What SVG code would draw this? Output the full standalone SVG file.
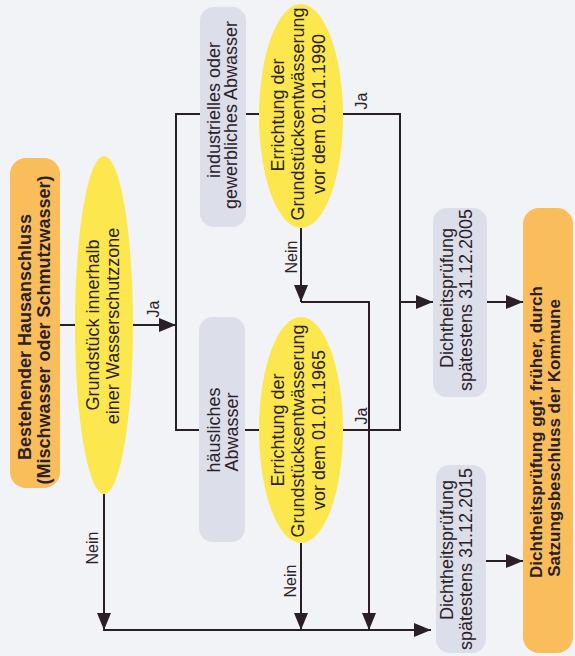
<svg xmlns="http://www.w3.org/2000/svg" width="575" height="656" viewBox="0 0 575 656">
<style>
.t{font-family:"Liberation Sans Narrow","Liberation Sans",Arial,sans-serif;fill:#2b2126;text-anchor:middle}
.b{font-weight:bold}
.lbl{font-family:"Liberation Sans",Arial,sans-serif;font-size:16px}
.ln{fill:none;stroke:#2a1f25;stroke-width:2}
.ell{fill:#fce84e}
.gray{fill:#dcdeea}
.org{fill:#f9bd5c}
</style>
<defs>
<marker id="ah" markerUnits="userSpaceOnUse" markerWidth="17" markerHeight="14" refX="17" refY="7" orient="auto">
<path d="M0,0 L17,7 L0,14 z" fill="#2a1f25"/>
</marker>
</defs>
<rect x="0" y="0" width="575" height="656" fill="#f2f3f7"/>
<g id="connectors">
<path class="ln" d="M60,325 H76"/>
<path class="ln" d="M133,325 H176" marker-end="url(#ah)"/>
<path class="ln" d="M259,114 H176 V430 H259"/>
<path class="ln" d="M343,114 H400 V430 H342"/>
<path class="ln" d="M400,302 H433" marker-end="url(#ah)"/>
<path class="ln" d="M301,228 V302" marker-end="url(#ah)"/>
<path class="ln" d="M301,302 H369 V630" marker-end="url(#ah)"/>
<path class="ln" d="M301,543 V630" marker-end="url(#ah)"/>
<path class="ln" d="M104,494 V630" marker-end="url(#ah)"/>
<path class="ln" d="M103,630 H431" marker-end="url(#ah)"/>
<path class="ln" d="M487,302 H523" marker-end="url(#ah)"/>
<path class="ln" d="M486,561 H523" marker-end="url(#ah)"/>
<text class="t lbl" transform="translate(159,309) rotate(-90)">Ja</text>
<text class="t lbl" transform="translate(367,101) rotate(-90)">Ja</text>
<text class="t lbl" transform="translate(367,416) rotate(-90)">Ja</text>
<text class="t lbl" transform="translate(98,548) rotate(-90)">Nein</text>
<text class="t lbl" transform="translate(297,257) rotate(-90)">Nein</text>
<text class="t lbl" transform="translate(296,581) rotate(-90)">Nein</text>
</g>
<g id="n_start">
<rect class="org" x="10" y="158" width="50" height="330" rx="16"/>
<text class="t b" font-size="18" transform="translate(31,337) rotate(-90)">Bestehender Hausanschluss</text>
<text class="t b" font-size="18" transform="translate(50,330) rotate(-90)">(Mischwasser oder Schmutzwasser)</text>
</g>
<g id="n_zone">
<ellipse class="ell" cx="104" cy="325" rx="29" ry="169"/>
<text class="t" font-size="18" transform="translate(99,325) rotate(-90)">Grundstück innerhalb</text>
<text class="t" font-size="18" transform="translate(119,326) rotate(-90)">einer Wasserschutzzone</text>
</g>
<g id="n_ind">
<rect class="gray" x="200" y="7" width="46" height="220" rx="14"/>
<text class="t" font-size="18" transform="translate(220,110) rotate(-90)">industrielles oder</text>
<text class="t" font-size="18" transform="translate(237,115) rotate(-90)">gewerbliches Abwasser</text>
</g>
<g id="n_e1990">
<ellipse class="ell" cx="301" cy="116" rx="42" ry="112"/>
<text class="t" font-size="18" transform="translate(284,115) rotate(-90)">Errichtung der</text>
<text class="t" font-size="18" transform="translate(304,114) rotate(-90)">Grundstücksentwässerung</text>
<text class="t" font-size="18" transform="translate(325,114) rotate(-90)">vor dem 01.01.1990</text>
</g>
<g id="n_haus">
<rect class="gray" x="199" y="317" width="46" height="225" rx="14"/>
<text class="t" font-size="18" transform="translate(220,430) rotate(-90)">häusliches</text>
<text class="t" font-size="18" transform="translate(238,432) rotate(-90)">Abwasser</text>
</g>
<g id="n_e1965">
<ellipse class="ell" cx="301" cy="430" rx="42" ry="113"/>
<text class="t" font-size="18" transform="translate(284,430) rotate(-90)">Errichtung der</text>
<text class="t" font-size="18" transform="translate(304,431) rotate(-90)">Grundstücksentwässerung</text>
<text class="t" font-size="18" transform="translate(325,430) rotate(-90)">vor dem 01.01.1965</text>
</g>
<g id="n_d2005">
<rect class="gray" x="433" y="208" width="54" height="189" rx="14"/>
<text class="t" font-size="18" transform="translate(453,298) rotate(-90)">Dichtheitsprüfung</text>
<text class="t" font-size="18" transform="translate(472,300) rotate(-90)">spätestens 31.12.2005</text>
</g>
<g id="n_d2015">
<rect class="gray" x="436" y="465" width="50" height="188" rx="14"/>
<text class="t" font-size="18" transform="translate(453,550) rotate(-90)">Dichtheitsprüfung</text>
<text class="t" font-size="18" transform="translate(472,559) rotate(-90)">spätestens 31.12.2015</text>
</g>
<g id="n_end">
<rect class="org" x="523" y="208" width="50" height="445" rx="16"/>
<text class="t b" font-size="17" transform="translate(542,432) rotate(-90)">Dichtheitsprüfung ggf. früher, durch</text>
<text class="t b" font-size="17" transform="translate(560,438) rotate(-90)">Satzungsbeschluss der Kommune</text>
</g>
</svg>
